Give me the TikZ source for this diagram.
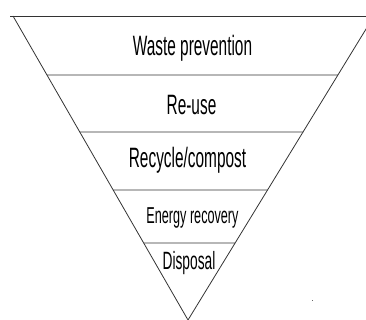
\documentclass[tikz,border=0pt]{standalone}
\usepackage{fontspec}
\newfontfamily\narrowfont[FakeStretch=0.55]{Liberation Sans}
\usetikzlibrary{calc}

\begin{document}
\begin{tikzpicture}[x=1pt,y=-1pt,
		level/.style={anchor=base,inner sep=0pt,font=\narrowfont\fontsize{#1}{#1}\selectfont},
		edge/.style={line width=0.8pt,black!80}]
		\useasboundingbox (0,0) rectangle (366,320);
		\clip (0,0) rectangle (366,320);
		\coordinate (lt) at (13,16);
		\coordinate (rt) at (374,16);
		\coordinate (apex) at (188,320);
		% funnel outline
		\draw[edge] (10,16) -- (366,16);
		\draw[edge] (lt) -- (apex) -- (rt);
		\foreach \y in {75,132,190,243}{
			\draw[edge] (intersection of lt--apex and 0,\y--1,\y) -- (intersection of rt--apex and 0,\y--1,\y);
		}
		% levels
		\node[level=28] (prevent) at (192.5,56) {Waste prevention};
		\node[level=28] (reuse) at (191.5,115) {Re-use};
		\node[level=28] (recycle) at (187.5,168) {Recycle/compost};
		\node[level=23] (energy) at (192.5,223) {Energy recovery};
		\node[level=25] (disposal) at (189,269) {Disposal};
		\fill[black!60] (311.5,299.5) rectangle (313,301);
		\end{tikzpicture}
\end{document}
